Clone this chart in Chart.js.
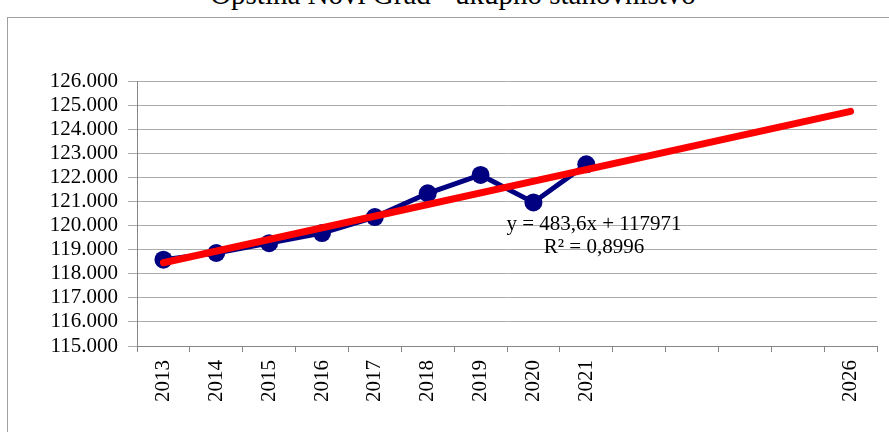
<!DOCTYPE html>
<html>
<head>
<meta charset="utf-8">
<script src="https://cdn.jsdelivr.net/npm/chart.js@4"></script>
<style>
  body { margin: 0; background: #fff; overflow: hidden; }
  #wrap { position: relative; width: 889px; height: 432px; overflow: hidden; }
  #frame { position: absolute; left: 7px; top: 17px; width: 1000px; height: 600px; border: 1px solid #a0a0a0; }
  #title { position: absolute; left: 0; width: 906px; top: -22px; text-align: center; line-height: 33px;
           font-family: "Liberation Serif", "Times New Roman", serif; font-size: 29px; color: #000; }
  canvas { position: absolute; left: 0; top: 0; }
</style>
</head>
<body>
<div id="wrap">
  <div id="frame"></div>
  <div id="title">Opština Novi Grad - ukupno stanovništvo</div>
  <canvas id="chart" width="889" height="432"></canvas>
</div>
<script>
const years = ['2013', '2014', '2015', '2016', '2017', '2018', '2019', '2020', '2021', '', '', '', '', '2026'];
const population = [118585, 118860, 119270, 119690, 120350, 121340, 122100, 120960, 122540, null, null, null, null, null];
// linearni trend (iz Excela): krajnje tačke 2013 i 2026
const trend = [118455, null, null, null, null, null, null, null, null, null, null, null, null, 124741];
const trendLabel = ['y = 483,6x + 117971', 'R² = 0,8996'];

const serif = '"Liberation Serif", "Times New Roman", serif';

const equationPlugin = {
  id: 'equation',
  afterDatasetsDraw(chart) {
    const ctx = chart.ctx;
    ctx.save();
    ctx.font = '21px ' + serif;
    ctx.fillStyle = '#000';
    ctx.textAlign = 'center';
    ctx.textBaseline = 'middle';
    ctx.fillText(trendLabel[0], 594, 224);
    ctx.fillText(trendLabel[1], 594, 247);
    ctx.restore();
  }
};

const ctx = document.getElementById('chart').getContext('2d');
new Chart(ctx, {
  type: 'line',
  data: {
    labels: years,
    datasets: [
      {
        label: 'Trend',
        data: trend,
        borderColor: '#ff0000',
        borderWidth: 7,
        borderCapStyle: 'round',
        pointRadius: 0,
        spanGaps: true,
        order: 0,
      },
      {
        label: 'Stanovništvo',
        data: population,
        borderColor: '#000080',
        backgroundColor: '#000080',
        borderWidth: 5,
        pointRadius: 9,
        pointBackgroundColor: '#000080',
        pointBorderWidth: 0,
        tension: 0,
        order: 1,
      },
    ],
  },
  options: {
    responsive: false,
    animation: false,
    layout: { padding: { top: 81, right: 12, left: 0, bottom: 0 } },
    plugins: { legend: { display: false }, tooltip: { enabled: false } },
    scales: {
      x: {
        type: 'category',
        offset: true,
        afterFit: (s) => { s.height = 86; },
        grid: { offset: true, drawOnChartArea: false, tickLength: 6, color: '#868686' },
        border: { color: '#868686' },
        ticks: {
          autoSkip: false, minRotation: 90, maxRotation: 90, padding: 8,
          color: '#000', font: { family: serif, size: 21 },
        },
      },
      y: {
        min: 115000,
        max: 126000,
        afterFit: (s) => { s.width = 137; },
        grid: { color: '#ababab', tickLength: 9 },
        border: { color: '#868686' },
        ticks: {
          stepSize: 1000, autoSkip: false, padding: 10, color: '#000',
          font: { family: serif, size: 21 },
          callback: (v) => (v / 1000).toFixed(3),
        },
      },
    },
  },
  plugins: [equationPlugin],
});
</script>
</body>
</html>
